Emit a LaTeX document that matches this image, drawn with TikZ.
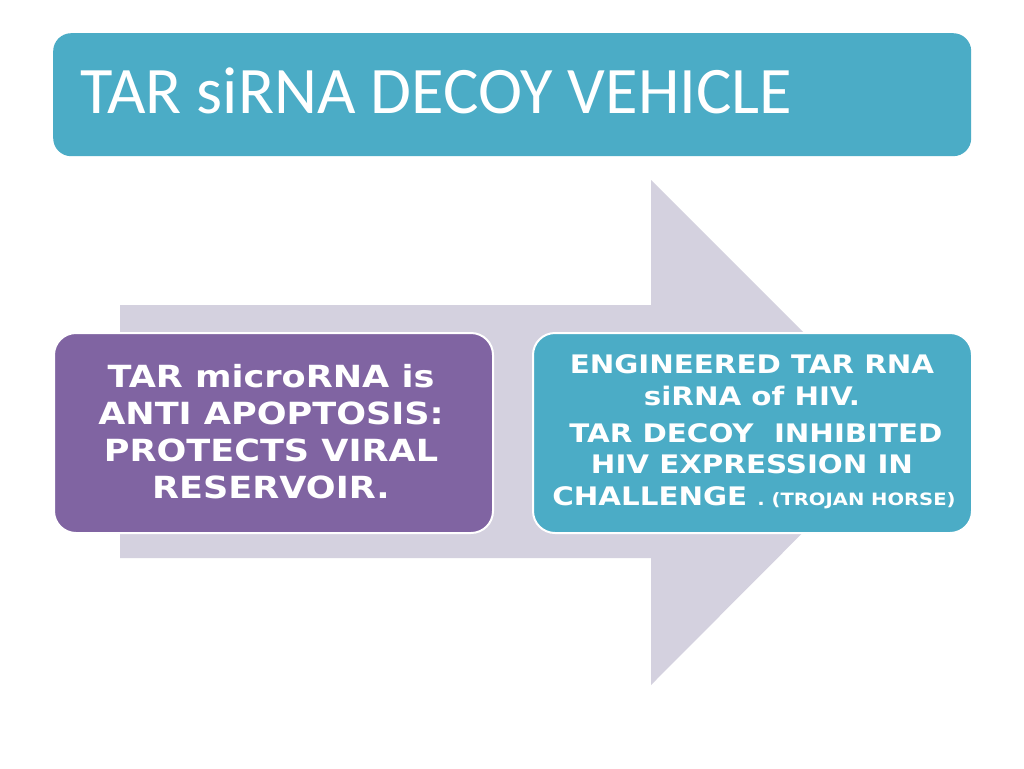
\documentclass[tikz,border=0pt]{standalone}
\usepackage{fontspec}
\setmainfont{Carlito}
\newfontfamily\boxfont{DejaVu Sans}[FakeStretch=1.15]
\definecolor{teal}{HTML}{4BACC6}
\definecolor{purp}{HTML}{8064A2}
\definecolor{arrowgray}{HTML}{D4D1DF}
\tikzset{
  panel/.style={rounded corners=22pt, draw=white, line width=2pt, minimum width=439pt, minimum height=200pt, anchor=north west},
  ltext/.style={text=white, font=\boxfont\bfseries\fontsize{30.5}{36}\selectfont, anchor=base, inner sep=0pt},
  rtext/.style={text=white, font=\boxfont\bfseries\fontsize{25.5}{30}\selectfont, anchor=base, inner sep=0pt},
}
\begin{document}
\begin{tikzpicture}[x=1pt,y=-1pt]
\useasboundingbox[fill=white] (0,0) rectangle (1024,768);
% title
\node[fill=teal, rounded corners=18pt, minimum width=918pt, minimum height=123pt, anchor=north west] (title) at (53,33) {};
\node[anchor=base west, text=white, font=\fontsize{66.5}{70}\selectfont, inner sep=0pt] (titletext) at (80,113) {TAR siRNA DECOY VEHICLE};
% arrow
\fill[arrowgray] (120,305) -- (651,305) -- (651,180) -- (903,432) -- (651,685) -- (651,558) -- (120,558) -- cycle;
% panels
\node[panel, fill=purp] (left) at (53,332) {};
\node[panel, fill=teal] (right) at (532,332) {};
\node[ltext] (l1) at (271,387) {TAR microRNA is};
\node[ltext] (l2) at (271,424) {ANTI APOPTOSIS:};
\node[ltext] (l3) at (271,461) {PROTECTS VIRAL};
\node[ltext] (l4) at (271,498) {RESERVOIR.};
\node[rtext] (r1) at (752,373) {ENGINEERED TAR RNA};
\node[rtext] (r2) at (752,405) {siRNA of HIV.};
\node[rtext] (r3) at (756,442) {TAR DECOY\ \ INHIBITED};
\node[rtext] (r4) at (752,473) {HIV EXPRESSION IN};
\node[rtext] (r5) at (754,505) {CHALLENGE {\fontsize{17}{20}\selectfont. (TROJAN HORSE)}};
\end{tikzpicture}
\end{document}
